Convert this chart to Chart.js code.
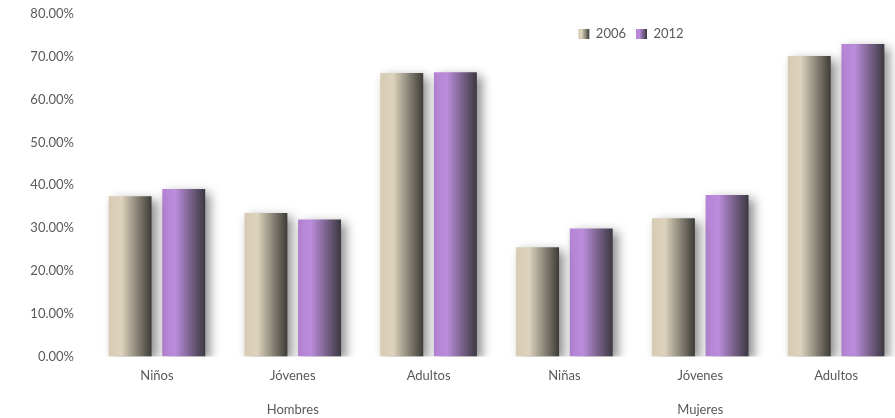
<!DOCTYPE html>
<html>
<head>
<meta charset="utf-8">
<script src="https://cdn.jsdelivr.net/npm/chart.js@4"></script>
<style>
  html, body { margin: 0; padding: 0; background: #fff; overflow: hidden; }
  #wrap { width: 904px; height: 430px; }
</style>
</head>
<body>
<div id="wrap"><canvas id="myChart"></canvas></div>
<script>
// datos (porcentajes)
const categorias = ["Niños", "Jóvenes", "Adultos", "Niñas", "Jóvenes", "Adultos"];
const grupos = ["", "Hombres", "", "", "Mujeres", ""];
const serie2006 = [37.4, 33.5, 66.2, 25.5, 32.3, 70.2];
const serie2012 = [39.1, 32.0, 66.4, 29.9, 37.7, 73.0];
const anios = ["2006", "2012"];
const ticksY = [0, 10, 20, 30, 40, 50, 60, 70, 80];

const fuente = "Lato, 'Open Sans', sans-serif";
const colorTexto = "#595959";

// colores del degradado: claro, mas claro, oscuro
const degradados = [
  ["#d6ccb2", "#ddd3bc", "#3c3b37"],
  ["#b583d4", "#bb8ddc", "#3b383f"],
];

function hacerDegradado(ctx, x0, x1, cols) {
  const g = ctx.createLinearGradient(x0, 0, x1, 0);
  g.addColorStop(0, cols[0]);
  g.addColorStop(0.3, cols[1]);
  g.addColorStop(1, cols[2]);
  return g;
}

const etiquetas = categorias.map((c, i) => [c, grupos[i]]);

// pinta cada barra con su degradado y sombra
const barrasConSombra = {
  id: "barrasConSombra",
  beforeDatasetsDraw(chart) {
    const ctx = chart.ctx;
    chart.data.datasets.forEach((ds, di) => {
      const meta = chart.getDatasetMeta(di);
      meta.data.forEach((el) => {
        const x0 = el.x - el.width / 2;
        el.options.backgroundColor = hacerDegradado(ctx, x0, x0 + el.width, degradados[di]);
      });
    });
    ctx.save();
    ctx.shadowColor = "rgba(0,0,0,0.45)";
    ctx.shadowBlur = 10;
    ctx.shadowOffsetX = 5;
    ctx.shadowOffsetY = 4;
  },
  afterDatasetsDraw(chart) {
    chart.ctx.restore();
  },
};

// leyenda horizontal, a la derecha, dentro del area del grafico
const leyendaMovida = {
  id: "leyendaMovida",
  afterInit(chart) {
    if (chart.legend) chart.legend.isHorizontal = () => true;
  },
  beforeDraw(chart) {
    const lg = chart.legend;
    if (!lg) return;
    const h = lg.height;
    lg.left = 531;
    lg.right = 731;
    lg.width = 200;
    lg.top = 17.5;
    lg.bottom = 17.5 + h;
    lg.adjustHitBoxes();
    lg.legendHitBoxes.forEach((hb, i) => {
      if (lg.legendItems[i]) {
        lg.legendItems[i].fillStyle = hacerDegradado(chart.ctx, hb.left, hb.left + 11, degradados[i]);
      }
    });
  },
};

const config = {
  type: "bar",
  data: {
    labels: etiquetas,
    datasets: anios.map((a, i) => ({
      label: a,
      data: i === 0 ? serie2006 : serie2012,
      backgroundColor: (c) => degradados[i][1],
      borderWidth: 0,
      categoryPercentage: 0.79,
      barPercentage: 0.8,
    })),
  },
  options: {
    responsive: true,
    maintainAspectRatio: false,
    animation: false,
    layout: { padding: { top: 14, left: 0, right: 0, bottom: 0 } },
    plugins: {
      legend: {
        position: "chartArea",
        align: "center",
        labels: {
          boxWidth: 11,
          boxHeight: 10,
          padding: 10,
          color: colorTexto,
          font: { family: fuente, size: 13 },
        },
      },
      tooltip: { enabled: false },
    },
    scales: {
      x: {
        grid: { display: false, drawTicks: false },
        border: { display: false },
        ticks: {
          color: colorTexto,
          padding: 3,
          maxRotation: 0,
          autoSkip: false,
          font: { family: fuente, size: 13, lineHeight: 2.6 },
        },
      },
      y: {
        min: 0,
        max: 80,
        afterBuildTicks: (s) => { s.ticks = ticksY.map((v) => ({ value: v })); },
        afterFit: (s) => { s.width = 89; s.paddingTop = 0; s.paddingBottom = 0; },
        grid: { display: false, drawTicks: false },
        border: { display: false },
        ticks: {
          color: colorTexto,
          padding: 15,
          font: { family: fuente, size: 13 },
          callback: (v) => v.toFixed(2) + "%",
        },
      },
    },
  },
  plugins: [barrasConSombra, leyendaMovida],
};

new Chart(document.getElementById("myChart").getContext("2d"), config);
</script>
</body>
</html>
